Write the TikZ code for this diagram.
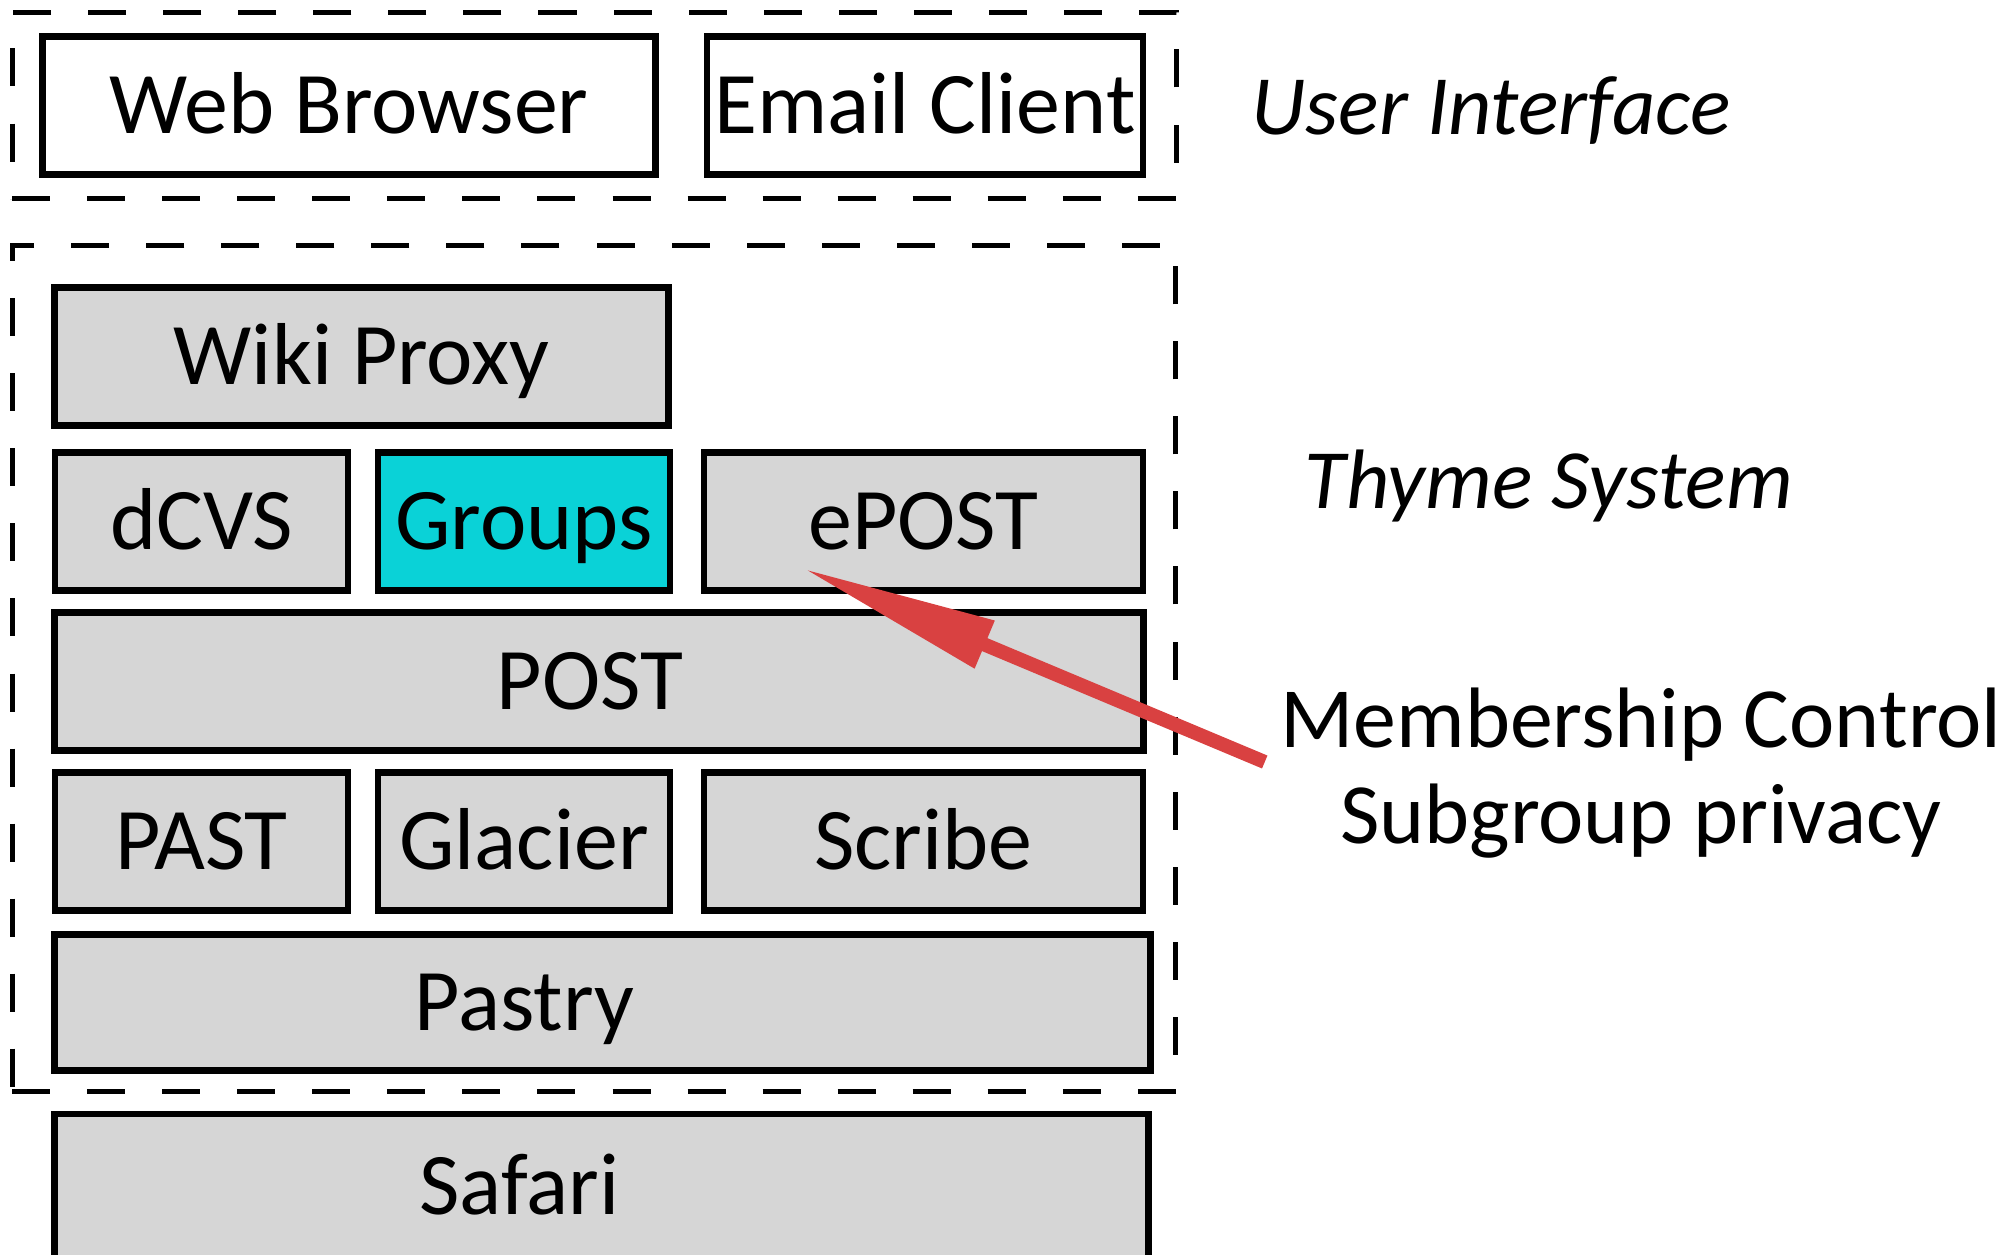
\documentclass[tikz,border=0pt]{standalone}
\usepackage{fontspec}
\setmainfont{Carlito}
\usepackage{tikz}
\usetikzlibrary{calc}
\usetikzlibrary{arrows.meta}
\definecolor{boxgray}{HTML}{D6D6D6}
\definecolor{groupcyan}{HTML}{0AD2D7}
\definecolor{calloutred}{HTML}{D94141}
\tikzstyle{tierbox} = [draw=black, line width=1.9pt, fill=boxgray, inner sep=0pt,
	minimum height=1.38cm, text height=16.1pt, text depth=0pt,
	font=\fontsize{25}{27.3}\selectfont]
\tikzstyle{tierframe} = [draw=black, line width=1.5pt, dash pattern=on 0.38cm off 0.37cm, inner sep=0pt]
\tikzstyle{sidelabel} = [inner sep=0pt, align=center, font=\fontsize{24.4}{27.3}\selectfont]
\tikzstyle{tiername} = [inner sep=0pt, font=\fontsize{24}{27}\selectfont\itshape]
\tikzstyle{callout} = [draw=calloutred, line width=0.14cm,
	-{Triangle[length=1.98cm,width=0.48cm]}]

\begin{document}
\begin{tikzpicture}[x=0.01cm,y=-0.01cm]
   \useasboundingbox (0,0) rectangle (2007,1254);
   % user interface tier
   \node[tierframe, minimum width=11.64cm, minimum height=1.86cm] (uiframe) at (594.5,105.5) {};
   \node[tierbox, fill=white, minimum width=6.12cm] (browser) at (349,105.5) {Web Browser};
   \node[tierbox, fill=white, minimum width=4.36cm] (email) at (925,105.5) {Email Client};
   \node[tiername, anchor=base] (uilabel) at (1491,134) {User Interface};
   % thyme system tier
   \node[tierframe, minimum width=11.63cm, minimum height=8.46cm] (thymeframe) at (594,668.5) {};
   \node[tierbox, minimum width=6.13cm] (wikiproxy) at (361.5,356.5) {Wiki Proxy};
   \node[tierbox, minimum width=2.93cm] (dcvs) at (201.5,521.5) {dCVS};
   \node[tierbox, fill=groupcyan, minimum width=2.92cm] (groups) at (524,521.5) {Groups};
   \node[tierbox, minimum width=4.39cm] (epost) at (923.5,521.5) {ePOST};
   \node[tierbox, minimum width=10.88cm] (post) at (599,681.5) {POST\hspace*{0.18cm}};
   \node[tierbox, minimum width=2.93cm] (past) at (201.5,841.5) {PAST};
   \node[tierbox, minimum width=2.92cm] (glacier) at (524,841.5) {Glacier};
   \node[tierbox, minimum width=4.39cm] (scribe) at (923.5,841.5) {Scribe};
   \node[tierbox, minimum width=10.95cm, minimum height=1.36cm] (pastry) at (602.5,1002.5) {Pastry\hspace*{1.56cm}};
   \node[tiername, anchor=base] (thymelabel) at (1549,508) {Thyme System};
   % below the system
   \node[tierbox, minimum width=10.93cm, minimum height=1.45cm] (safari) at (601.5,1186.5) {Safari\hspace*{1.64cm}};
   % annotation
   \node[sidelabel, inner xsep=0.15cm] (member) at (1641,773) {Membership Control\\Subgroup privacy};
   \coordinate (eposttip) at (802,568);
   \draw[callout] ($(member.west)+(0,-11)$) -- (eposttip);
\end{tikzpicture}
\end{document}
